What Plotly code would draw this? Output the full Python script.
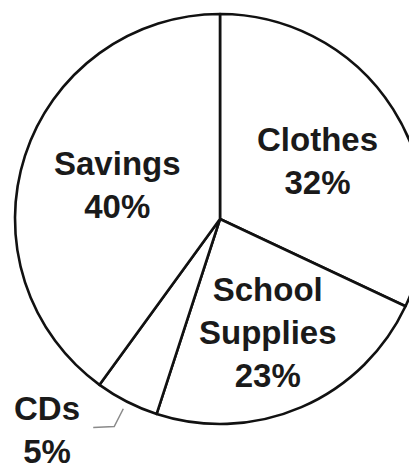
import math
import plotly.graph_objects as go

# ---- data ----
labels = ["Clothes", "School Supplies", "CDs", "Savings"]
values = [32, 23, 5, 40]
text_lines = ["Clothes", "School<br>Supplies", "CDs", "Savings"]

# ---- layout constants (figure pixels) ----
FIG_W, FIG_H = 417, 464
CX, CY, R = 212, 211, 205
FONT = "Liberation Sans, Arial, Helvetica, sans-serif"
FS = 33
label_radius = {"Clothes": 0.56, "School Supplies": 0.60, "Savings": 0.52}
label_shift = {"Clothes": (1, 4), "School Supplies": (-1, 1), "Savings": (-1, -1)}

def px_to_paper(x, y):
    return x / FIG_W, 1 - y / FIG_H

fig = go.Figure(go.Pie(
    labels=labels,
    values=values,
    sort=False,
    direction="clockwise",
    rotation=0,
    marker=dict(colors=["white"] * len(values), line=dict(color="#111111", width=2.6)),
    textinfo="none",
    hoverinfo="none",
    showlegend=False,
    domain=dict(x=[(CX - R) / FIG_W, min(1, (CX + R) / FIG_W)],
                y=[1 - (CY + R) / FIG_H, 1 - (CY - R) / FIG_H]),
))

total = sum(values)
annotations = []
shapes = []
cum = 0
for lab, val, txt in zip(labels, values, text_lines):
    mid = (cum + val / 2) / total * 2 * math.pi
    cum += val
    pct = f"{round(val / total * 100)}%"
    font = dict(family=FONT, size=FS, color="#1a1a1a", weight="bold")
    if lab in label_radius:
        r = label_radius[lab] * R
        dx, dy = label_shift[lab]
        x = CX + r * math.sin(mid) + dx
        y = CY - r * math.cos(mid) + dy
        px, py = px_to_paper(x, y)
        annotations.append(dict(x=px, y=py, xref="paper", yref="paper",
                                text=f"{txt}<br>{pct}", showarrow=False, font=font,
                                xanchor="center", yanchor="middle", align="center"))
    else:
        # outside label with leader line
        x0 = CX + (R + 8) * math.sin(mid)
        y0 = CY - (R + 8) * math.cos(mid)
        x1 = CX + (R + 28) * math.sin(mid)
        y1 = CY - (R + 28) * math.cos(mid)
        x2 = x1 - 21
        y2 = y1 + 1
        path = "M {} {} L {} {} L {} {}".format(*px_to_paper(x0, y0), *px_to_paper(x1, y1), *px_to_paper(x2, y2))
        shapes.append(dict(type="path", xref="paper", yref="paper", path=path,
                           line=dict(color="#8a8a8a", width=1.5)))
        tx, ty = px_to_paper(x2 - 46, y2 + 2)
        annotations.append(dict(x=tx, y=ty, xref="paper", yref="paper",
                                text=f"{txt}<br>{pct}", showarrow=False, font=font,
                                xanchor="center", yanchor="middle", align="center"))

fig.update_layout(
    width=FIG_W, height=FIG_H,
    margin=dict(l=0, r=0, t=0, b=0),
    paper_bgcolor="white",
    annotations=annotations,
    shapes=shapes,
)

fig.write_html("out.html")
